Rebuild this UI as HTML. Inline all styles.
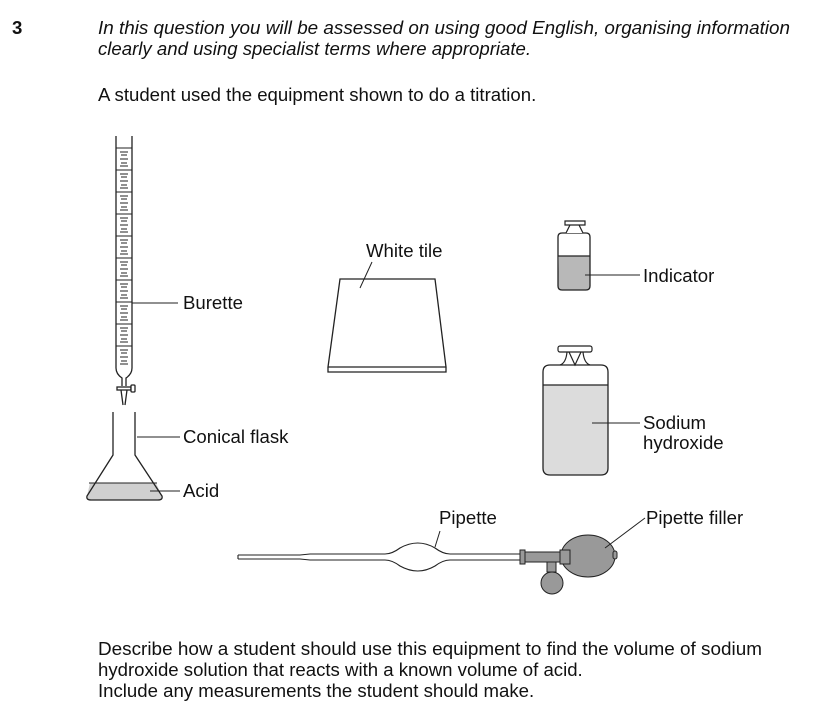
<!DOCTYPE html>
<html><head><style>
body{margin:0;background:#fff;width:831px;height:722px;overflow:hidden}
svg{display:block}
text{font-family:"Liberation Sans",Arial,sans-serif;font-size:18.6px;fill:#111}
</style></head><body>
<svg width="831" height="722" viewBox="0 0 831 722">
<text x="12" y="34" font-weight="bold" font-size="17">3</text>
<text x="98" y="34" font-style="italic" textLength="692" lengthAdjust="spacingAndGlyphs">In this question you will be assessed on using good English, organising information</text>
<text x="98" y="55" font-style="italic">clearly and using specialist terms where appropriate.</text>
<text x="98" y="101">A student used the equipment shown to do a titration.</text>

<g stroke="#222" stroke-width="1.3" fill="none">
<path d="M116 136 V368 Q116 374 122 378 L122 386 M132 136 V368 Q132 374 126 378 L126 386"/>
<rect x="117" y="387" width="14" height="3" fill="#fff"/>
<rect x="131" y="385" width="4" height="7" rx="1" fill="#fff"/>
<path d="M121 390 L123 405 M127 390 L125 405"/>
</g>
<g stroke="#222" stroke-width="1">
<path d="M116 148H132M116 170H132M116 192H132M116 214H132M116 236H132M116 258H132M116 280H132M116 302H132M116 324H132M116 346H132"/>
<path d="M120 152H128M121 155H127M120 159H128M121 163H127M120 166H128
M120 174H128M121 177H127M120 181H128M121 185H127M120 188H128
M120 196H128M121 199H127M120 203H128M121 207H127M120 210H128
M120 218H128M121 221H127M120 225H128M121 229H127M120 232H128
M120 240H128M121 243H127M120 247H128M121 251H127M120 254H128
M120 262H128M121 265H127M120 269H128M121 273H127M120 276H128
M120 284H128M121 287H127M120 291H128M121 295H127M120 298H128
M120 306H128M121 309H127M120 313H128M121 317H127M120 320H128
M120 328H128M121 331H127M120 335H128M121 339H127M120 342H128
M120 350H128M121 353H127M120 357H128M121 361H127M120 364H128"/>
<path d="M132 303H178"/>
</g>
<text x="183" y="309">Burette</text>

<path d="M90 483 H156 L162 496 Q163 500 158 500 H91 Q86 500 87 496 Z" fill="#d0d0d0"/>
<path d="M113 412 V455 L87 496 Q86 500 91 500 H158 Q163 500 162 496 L135 455 V412" stroke="#222" stroke-width="1.3" fill="none"/>
<path d="M89 483 H157" stroke="#222" stroke-width="1"/>
<path d="M137 437H180M150 491H180" stroke="#222" stroke-width="1"/>
<text x="183" y="443">Conical flask</text>
<text x="183" y="497">Acid</text>

<path d="M340 279 H435 L446 367 H328 Z M328 367 V372 H446 V367" stroke="#222" stroke-width="1.3" fill="#fff"/>
<path d="M372 262 L360 288" stroke="#222" stroke-width="1"/>
<text x="366" y="257">White tile</text>

<path d="M559 256 H590 V286 Q590 290 586 290 H562 Q558 290 558 286 Z" fill="#b8b8b8"/>
<path d="M562 233 H586 Q590 233 590 237 V286 Q590 290 586 290 H562 Q558 290 558 286 V237 Q558 233 562 233 Z M558 256 H590" stroke="#222" stroke-width="1.3" fill="none"/>
<path d="M566 233 L570 225 H579 L583 233 M565 221 H585 V225 H565 Z" stroke="#222" stroke-width="1.2" fill="#fff"/>
<path d="M585 275H640" stroke="#222" stroke-width="1"/>
<text x="643" y="282">Indicator</text>

<path d="M543 385 H608 V468 Q608 475 601 475 H550 Q543 475 543 468 Z" fill="#dcdcdc"/>
<path d="M550 365 H601 Q608 365 608 372 V468 Q608 475 601 475 H550 Q543 475 543 468 V372 Q543 365 550 365 Z M543 385 H608" stroke="#222" stroke-width="1.3" fill="none"/>
<path d="M560 365 Q566 363 567 352 M590 365 Q584 363 583 352 M569 352 L575 365 L581 352" stroke="#222" stroke-width="1.2" fill="#fff"/>
<rect x="558" y="346" width="34" height="6" rx="2" stroke="#222" stroke-width="1.2" fill="#fff"/>
<path d="M592 423H640" stroke="#222" stroke-width="1"/>
<text x="643" y="429">Sodium</text>
<text x="643" y="449">hydroxide</text>

<path d="M238 555 H300 L310 554 H385 Q392 554 400 548 Q418 538 435 548 Q443 554 450 554 H521 M238 559 H300 L310 560 H385 Q392 560 400 566 Q418 576 435 566 Q443 560 450 560 H521 M238 555 V559" stroke="#222" stroke-width="1.1" fill="none"/>
<rect x="520" y="550" width="5" height="14" stroke="#222" stroke-width="1" fill="#999"/>
<path d="M525 552 H562 V562 H525 Z" stroke="#222" stroke-width="1" fill="#999"/>
<rect x="547" y="562" width="9" height="10" stroke="#222" stroke-width="1" fill="#999"/>
<circle cx="552" cy="583" r="11" stroke="#222" stroke-width="1" fill="#999"/>
<ellipse cx="588" cy="556" rx="27" ry="21" stroke="#222" stroke-width="1" fill="#999"/>
<rect x="560" y="550" width="10" height="14" fill="#999" stroke="#222" stroke-width="1"/>
<rect x="613" y="551" width="4" height="8" rx="2" fill="#999" stroke="#222" stroke-width="1"/>
<path d="M440 531 L435 547 M645 518 L605 548" stroke="#222" stroke-width="1"/>
<text x="439" y="524">Pipette</text>
<text x="646" y="524">Pipette filler</text>

<text x="98" y="655" textLength="664" lengthAdjust="spacingAndGlyphs">Describe how a student should use this equipment to find the volume of sodium</text>
<text x="98" y="676">hydroxide solution that reacts with a known volume of acid.</text>
<text x="98" y="697">Include any measurements the student should make.</text>
</svg>
</body></html>
